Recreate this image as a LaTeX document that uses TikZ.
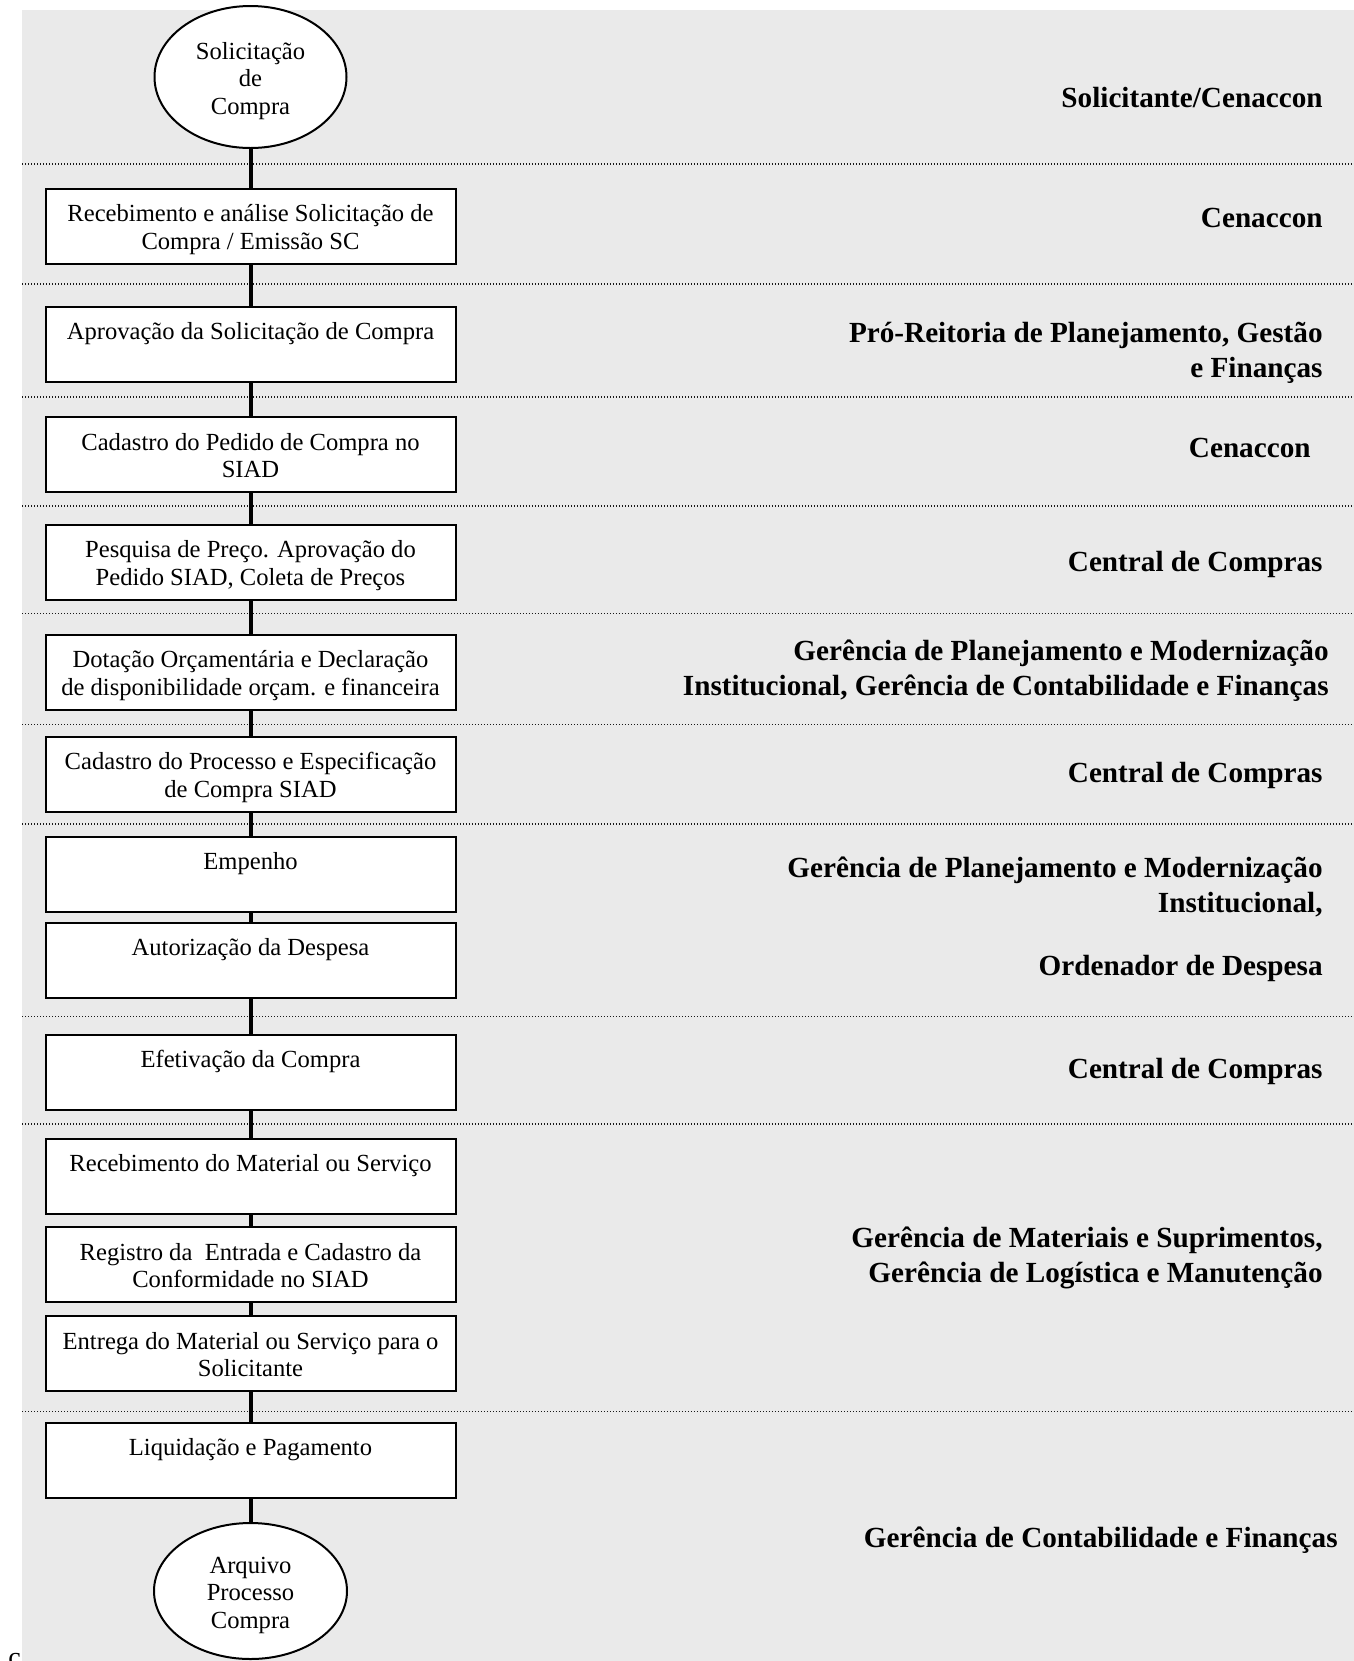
\documentclass[tikz,border=0pt]{standalone}
\usepackage{fontspec}
\setmainfont{Liberation Serif}
\usetikzlibrary{shapes.geometric}

\definecolor{fundo}{RGB}{234,234,234}

\tikzset{
  etapa/.style={rectangle,draw=black,line width=1pt,fill=white,minimum width=205pt,minimum height=37.5pt,inner sep=0pt,align=center,text height=23pt,text depth=0pt,font=\fontsize{12.3}{13.75}\selectfont},
  terminal/.style={ellipse,draw=black,line width=1pt,fill=white,minimum width=96pt,inner sep=0pt,align=center,text height=37pt,text depth=0pt,font=\fontsize{12.3}{13.75}\selectfont},
  setor/.style={anchor=base east,align=right,inner sep=0pt,font=\fontsize{14.6}{17.5}\selectfont\bfseries},
  fluxo/.style={line width=2pt},
  divisa/.style={line width=0.85pt,black!90,dash pattern=on 0.6pt off 0.9pt}
}

\begin{document}
\begin{tikzpicture}[x=0.5pt,y=-0.5pt]
			\useasboundingbox (0,0) rectangle (1354,1661);
			\fill[fundo] (22,10) rectangle (1354,1661);
			
			% faixas dos setores
			\foreach \y in {164,284,397,506,613.5,724.5,824,1016.5,1124,1411.5}
				\draw[divisa] (22,\y) -- (1354,\y);
			
			\node[terminal,minimum height=71pt] (inicio) at (250.5,77) {Solicitação\\de\\Compra};
			\node[etapa] (b1) at (250.5,226) {Recebimento e análise Solicitação de\\Compra / Emissão SC};
			\node[etapa] (b2) at (250.5,344) {Aprovação da Solicitação de Compra\\\mbox{}};
			\node[etapa] (b3) at (250.5,454.5) {Cadastro do Pedido de Compra no\\SIAD};
			\node[etapa] (b4) at (250.5,562) {Pesquisa de Preço. Aprovação do\\Pedido SIAD, Coleta de Preços};
			\node[etapa] (b5) at (250.5,672) {Dotação Orçamentária e Declaração\\de disponibilidade orçam. e financeira};
			\node[etapa] (b6) at (250.5,774) {Cadastro do Processo e Especificação\\de Compra SIAD};
			\node[etapa] (b7) at (250.5,874) {Empenho\\\mbox{}};
			\node[etapa] (b8) at (250.5,960) {Autorização da Despesa\\\mbox{}};
			\node[etapa] (b9) at (250.5,1072) {Efetivação da Compra\\\mbox{}};
			\node[etapa] (b10) at (250.5,1176) {Recebimento do Material ou Serviço\\\mbox{}};
			\node[etapa] (b11) at (250.5,1264.5) {Registro da~ Entrada e Cadastro da\\Conformidade no SIAD};
			\node[etapa] (b12) at (250.5,1353.5) {Entrega do Material ou Serviço para o\\Solicitante};
			\node[etapa] (b13) at (250.5,1460) {Liquidação e Pagamento\\\mbox{}};
			\node[terminal,minimum width=96.5pt,minimum height=68pt] (fim) at (250.5,1591) {Arquivo\\Processo\\Compra};
			
			\draw[fluxo] (inicio) -- (b1);
			\draw[fluxo] (b1) -- (b2);
			\draw[fluxo] (b2) -- (b3);
			\draw[fluxo] (b3) -- (b4);
			\draw[fluxo] (b4) -- (b5);
			\draw[fluxo] (b5) -- (b6);
			\draw[fluxo] (b6) -- (b7);
			\draw[fluxo] (b7) -- (b8);
			\draw[fluxo] (b8) -- (b9);
			\draw[fluxo] (b9) -- (b10);
			\draw[fluxo] (b10) -- (b11);
			\draw[fluxo] (b11) -- (b12);
			\draw[fluxo] (b12) -- (b13);
			\draw[fluxo] (b13) -- (fim);
			
			% setores responsaveis
			\node[setor] (s1) at (1323,107) {Solicitante/Cenaccon};
			\node[setor] (s2) at (1323,227) {Cenaccon};
			\node[setor] (s3) at (1323,377) {Pró-Reitoria de Planejamento, Gestão\\e Finanças};
			\node[setor] (s4) at (1311,457) {Cenaccon};
			\node[setor] (s5) at (1323,571) {Central de Compras};
			\node[setor] (s6) at (1329,695) {Gerência de Planejamento e Modernização\\Institucional, Gerência de Contabilidade e Finanças};
			\node[setor] (s7) at (1323,782) {Central de Compras};
			\node[setor] (s8) at (1323,912) {Gerência de Planejamento e Modernização\\Institucional,};
			\node[setor] (s9) at (1323,975) {Ordenador de Despesa};
			\node[setor] (s10) at (1323,1078) {Central de Compras};
			\node[setor] (s11) at (1323,1282) {Gerência de Materiais e Suprimentos,\\Gerência de Logística e Manutenção};
			\node[setor] (s12) at (1338,1547) {Gerência de Contabilidade e Finanças};
			
			\node[anchor=north west,inner sep=0pt,font=\fontsize{14}{16}\selectfont] (rodape) at (8,1653) {c};
		\end{tikzpicture}
\end{document}
